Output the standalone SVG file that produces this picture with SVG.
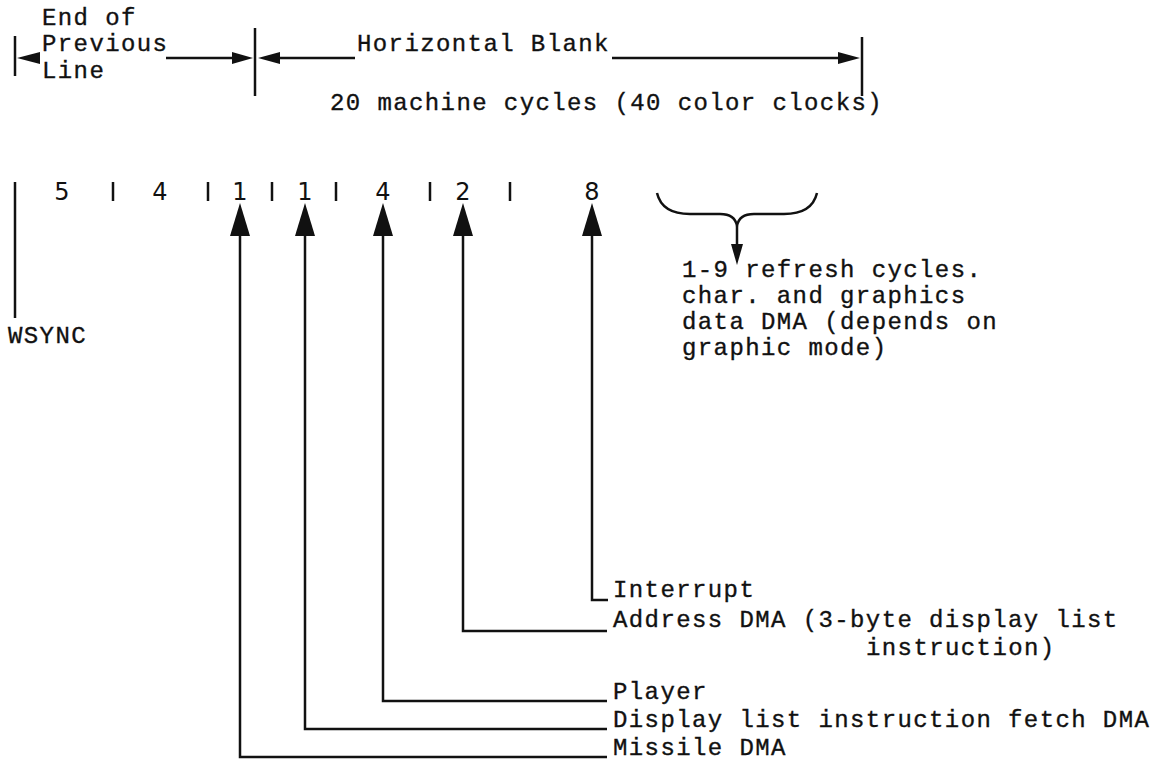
<svg xmlns="http://www.w3.org/2000/svg" width="1169" height="765" viewBox="0 0 1169 765">
<style>
.t{font-family:"Liberation Mono","DejaVu Sans Mono",monospace;font-size:24px;letter-spacing:1.4px;fill:#111;stroke:#111;stroke-width:0.35}
.n{font-family:"DejaVu Sans","Liberation Sans",sans-serif;font-size:24px;fill:#111;text-anchor:middle}
.l{stroke:#111;stroke-width:2.5;fill:none}
.h{fill:#111;stroke:none}
</style>
<rect width="1169" height="765" fill="#fff"/>
<g id="header">
<text class="t" x="42" y="25">End of</text>
<text class="t" x="42" y="51">Previous</text>
<text class="t" x="42" y="78">Line</text>
<text class="t" x="357" y="51">Horizontal Blank</text>
<text class="t" x="330" y="110">20 machine cycles (40 color clocks)</text>
</g>
<g id="header-lines">
<line class="l" x1="15" y1="36" x2="15" y2="76"/>
<line class="l" x1="255" y1="28" x2="255" y2="96"/>
<line class="l" x1="862" y1="37" x2="862" y2="96"/>
<polygon class="h" points="17,58 40,52 40,64"/>
<line class="l" x1="166" y1="58" x2="234" y2="58"/>
<polygon class="h" points="253,58 232,52 232,64"/>
<polygon class="h" points="258,58 280,52 280,64"/>
<line class="l" x1="278" y1="58" x2="355" y2="58"/>
<line class="l" x1="612" y1="58" x2="842" y2="58"/>
<polygon class="h" points="860,58 838,52 838,64"/>
</g>
<g id="cycles">
<line class="l" x1="15" y1="182" x2="15" y2="318"/>
<text class="t" x="8" y="343">WSYNC</text>
<text class="n" x="62" y="200">5</text>
<line class="l" x1="113" y1="182" x2="113" y2="201"/>
<text class="n" x="160" y="200">4</text>
<line class="l" x1="208" y1="182" x2="208" y2="201"/>
<text class="n" x="240" y="200">1</text>
<line class="l" x1="272" y1="182" x2="272" y2="201"/>
<text class="n" x="305" y="200">1</text>
<line class="l" x1="336" y1="182" x2="336" y2="201"/>
<text class="n" x="383" y="200">4</text>
<line class="l" x1="430" y1="182" x2="430" y2="201"/>
<text class="n" x="463" y="200">2</text>
<line class="l" x1="510" y1="182" x2="510" y2="201"/>
<text class="n" x="592" y="200">8</text>
</g>
<g id="refresh">
<path class="l" d="M657,193 Q662,214 690,214 L720,214 Q735,214 737,226 Q739,214 754,214 L784,214 Q812,214 817,193"/>
<line class="l" x1="737" y1="226" x2="737" y2="248"/>
<polygon class="h" points="731,244 743,244 737,265"/>
<text class="t" x="682" y="277">1-9 refresh cycles.</text>
<text class="t" x="682" y="303">char. and graphics</text>
<text class="t" x="682" y="329">data DMA (depends on</text>
<text class="t" x="682" y="355">graphic mode)</text>
</g>
<g id="connectors">
<polyline class="l" points="240,232 240,757 607,757"/>
<polygon class="h" points="240,203 230,236 250,236"/>
<polyline class="l" points="305,232 305,729 607,729"/>
<polygon class="h" points="305,203 295,236 315,236"/>
<polyline class="l" points="383,232 383,701 607,701"/>
<polygon class="h" points="383,203 373,236 393,236"/>
<polyline class="l" points="463,232 463,631 607,631"/>
<polygon class="h" points="463,203 453,236 473,236"/>
<polyline class="l" points="592,232 592,600 608,600"/>
<polygon class="h" points="592,203 582,236 602,236"/>
</g>
<g id="labels">
<text class="t" x="613" y="597">Interrupt</text>
<text class="t" x="613" y="627">Address DMA (3-byte display list</text>
<text class="t" x="866" y="655">instruction)</text>
<text class="t" x="613" y="699">Player</text>
<text class="t" x="613" y="727">Display list instruction fetch DMA</text>
<text class="t" x="613" y="755">Missile DMA</text>
</g>
</svg>
